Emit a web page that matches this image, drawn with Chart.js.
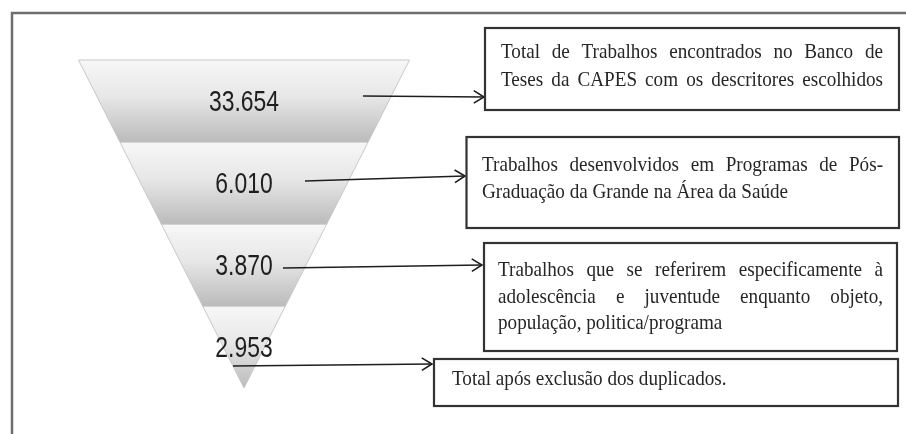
<!DOCTYPE html>
<html><head><meta charset="utf-8">
<script src="https://cdn.jsdelivr.net/npm/chart.js@4.4.1/dist/chart.umd.min.js"></script>
<style>html,body{margin:0;padding:0;background:#fff;}canvas{display:block;}</style>
</head><body>
<canvas id="c" width="906" height="434"></canvas>
<script>
// ---- data ----
const stageValues = ["33.654", "6.010", "3.870", "2.953"];
const stageDescriptions = [
  ["Total de Trabalhos encontrados no Banco de", "Teses da CAPES com os descritores escolhidos"],
  ["Trabalhos desenvolvidos em Programas de Pós-", "Graduação da Grande na Área da Saúde"],
  ["Trabalhos que se referirem especificamente à", "adolescência e juventude enquanto objeto,", "população, politica/programa"],
  ["Total após exclusão dos duplicados."]
];

// ---- layout (annotation boxes / arrows, pixels) ----
const justifyFlags = [[true, true], [true, false], [true, true, false], [false]];
const boxRects = [
  {l: 485, t: 28, r: 899, b: 110, tx: 501, base: [58, 86]},
  {l: 466.5, t: 137, r: 899, b: 228, tx: 482, base: [171, 198]},
  {l: 484, t: 243, r: 897, b: 351, tx: 498, base: [276, 302.5, 328.5]},
  {l: 434, t: 359, r: 898, b: 406, tx: 452, base: [385]}
];
const arrowPaths = [
  [363, 96, 484, 97],
  [305, 181, 465, 176],
  [283, 268, 482, 265],
  [233, 366, 432, 364]
];
const justifyRight = 883;

const n = stageValues.length;
const W = 906, H = 434;
const funnelCx = 244, funnelHalf = 165.5, funnelTop = 60, funnelApex = 388;
const pxPerY = (funnelApex - funnelTop) / n;

// each band is a trapezoid in funnel units: y from n-i (top) to n-i-1, half width = y/n
const datasets = stageValues.map((v, i) => {
  const yt = n - i, yb = n - i - 1;
  const wt = yt / n, wb = yb / n;
  return {
    label: v,
    data: [{x: -wt, y: yt}, {x: wt, y: yt}, {x: wb, y: yb}, {x: -wb, y: yb}, {x: -wt, y: yt}],
    showLine: true,
    fill: 'shape',
    pointRadius: 0,
    pointHoverRadius: 0,
    borderWidth: 1,
    borderColor: 'rgba(195,195,195,0.9)',
    tension: 0,
    backgroundColor: function(ctx) {
      const ch = ctx.chart;
      if (!ch.chartArea || !ch.scales.y) return '#dddddd';
      const ys = ch.scales.y;
      const top = ys.getPixelForValue(yt), bot = ys.getPixelForValue(yb);
      const g = ch.ctx.createLinearGradient(0, top, 0, bot);
      g.addColorStop(0, '#f7f7f7');
      g.addColorStop(0.45, '#e7e7e7');
      g.addColorStop(1, '#bbbbbb');
      return g;
    }
  };
});

function drawLine(ctx, text, x, y, width, justify, sx) {
  ctx.save();
  ctx.translate(x, y);
  ctx.scale(sx, 1);
  if (!justify) {
    ctx.fillText(text, 0, 0);
  } else {
    const words = text.split(' ');
    const widths = words.map(w => ctx.measureText(w).width);
    const total = widths.reduce((a, b) => a + b, 0);
    const gap = (width / sx - total) / (words.length - 1);
    let cx = 0;
    words.forEach((w, k) => { ctx.fillText(w, cx, 0); cx += widths[k] + gap; });
  }
  ctx.restore();
}

const annot = {
  id: 'annot',
  afterDatasetsDraw(chart) {
    const ctx = chart.ctx;
    const xs = chart.scales.x, ys = chart.scales.y;
    ctx.save();
    // outer frame
    ctx.strokeStyle = '#6e6e6e';
    ctx.lineWidth = 2.5;
    ctx.beginPath();
    ctx.moveTo(12, H); ctx.lineTo(12, 13); ctx.lineTo(W, 13);
    ctx.stroke();

    // stage values
    ctx.fillStyle = '#1e1e1e';
    ctx.font = '29px "Liberation Sans", Arial, sans-serif';
    ctx.textAlign = 'center';
    ctx.textBaseline = 'alphabetic';
    stageValues.forEach((v, i) => {
      const px = xs.getPixelForValue(0);
      const py = ys.getPixelForValue(n - i - 0.5);
      ctx.save();
      ctx.translate(px, py + 10.2);
      ctx.scale(0.79, 1);
      ctx.fillText(v, 0, 0);
      ctx.restore();
    });

    // arrows
    ctx.strokeStyle = '#1e1e1e';
    ctx.lineWidth = 1.6;
    arrowPaths.forEach(a => {
      const [x1, y1, x2, y2] = a;
      ctx.beginPath(); ctx.moveTo(x1, y1); ctx.lineTo(x2, y2); ctx.stroke();
      const ang = Math.atan2(y2 - y1, x2 - x1);
      const L = 12, s = 0.55;
      ctx.beginPath();
      ctx.moveTo(x2 - L * Math.cos(ang - s), y2 - L * Math.sin(ang - s));
      ctx.lineTo(x2, y2);
      ctx.lineTo(x2 - L * Math.cos(ang + s), y2 - L * Math.sin(ang + s));
      ctx.stroke();
    });

    // boxes
    ctx.textAlign = 'left';
    ctx.font = '22px "Liberation Serif", "Times New Roman", serif';
    stageDescriptions.forEach((lines, i) => {
      const b = boxRects[i];
      ctx.fillStyle = '#ffffff';
      ctx.fillRect(b.l, b.t, b.r - b.l, b.b - b.t);
      ctx.strokeStyle = '#333333';
      ctx.lineWidth = 2.2;
      ctx.strokeRect(b.l, b.t, b.r - b.l, b.b - b.t);
      ctx.fillStyle = '#262626';
      lines.forEach((ln, k) => {
        drawLine(ctx, ln, b.tx, b.base[k], justifyRight - b.tx, justifyFlags[i][k], 0.87);
      });
    });
    ctx.restore();
  }
};

new Chart(document.getElementById('c'), {
  type: 'scatter',
  data: {datasets},
  options: {
    responsive: false,
    animation: false,
    layout: {padding: 0},
    plugins: {legend: {display: false}, tooltip: {enabled: false}},
    events: [],
    scales: {
      x: {type: 'linear', display: false, min: -funnelCx / funnelHalf, max: (W - funnelCx) / funnelHalf},
      y: {type: 'linear', display: false, min: -(H - funnelApex) / pxPerY, max: n + funnelTop / pxPerY}
    }
  },
  plugins: [annot]
});
</script>
</body></html>
